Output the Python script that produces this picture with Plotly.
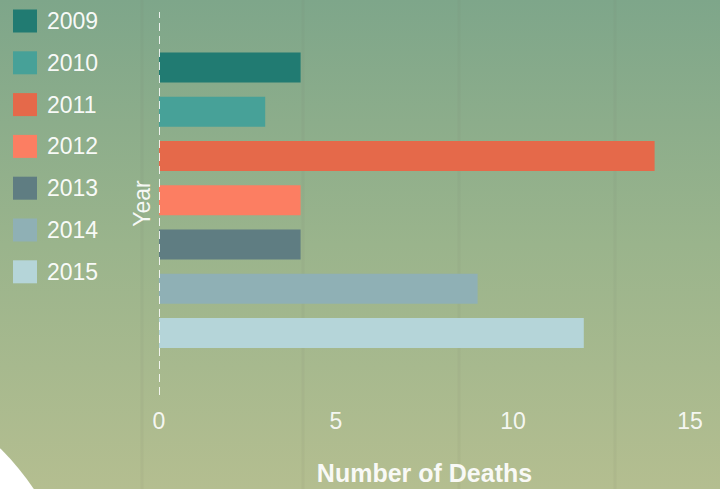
import base64
import plotly.graph_objects as go

# ---- data ----
years = ["2009", "2010", "2011", "2012", "2013", "2014", "2015"]
deaths = [4, 3, 14, 4, 4, 9, 12]
colors = ["#217b72", "#47a198", "#e5694a", "#fc7e62", "#5f7d82", "#8fb0b5", "#b5d5d9"]
x_ticks = [0, 5, 10, 15]

W, H = 720, 489
ML, MR, MT, MB = 159, 30, 12, 94
PW, PH = W - ML - MR, H - MT - MB

def px_x(p):
    return (p - ML) / PW

def px_y(p):
    return (H - MB - p) / PH

# background: vertical gradient, faint stripes, white circle bottom-left
svg = f'''<svg xmlns="http://www.w3.org/2000/svg" width="{W}" height="{H}" viewBox="0 0 {W} {H}">
<defs><linearGradient id="g" x1="0" y1="0" x2="0" y2="1">
<stop offset="0" stop-color="#7ea68a"/>
<stop offset="0.5" stop-color="#9ab48c"/>
<stop offset="1" stop-color="#b4be90"/>
</linearGradient></defs>
<rect x="0" y="0" width="{W}" height="{H}" fill="url(#g)"/>
<g stroke="rgba(110,120,100,0.07)" stroke-width="3">
<line x1="142" y1="0" x2="142" y2="{H}"/>
<line x1="303" y1="0" x2="303" y2="{H}"/>
<line x1="459" y1="0" x2="459" y2="{H}"/>
<line x1="615" y1="0" x2="615" y2="{H}"/>
</g>
<circle cx="-190" cy="640" r="270" fill="#ffffff"/>
</svg>'''
src = "data:image/svg+xml;base64," + base64.b64encode(svg.encode()).decode()

fig = go.Figure()
fig.add_trace(go.Bar(
    y=years, x=deaths, orientation="h",
    marker=dict(color=colors, line=dict(width=0)),
    showlegend=False,
    hovertemplate="%{y}: %{x}<extra></extra>",
))

shapes = [dict(type="line", xref="x", yref="paper", x0=0, x1=0, y0=0, y1=1,
               line=dict(color="rgba(255,255,255,0.85)", width=2, dash="8px,5px"))]
annotations = []
# manual legend (large swatches)
for i, (yr, c) in enumerate(zip(years, colors)):
    cy = 21 + i * 41.8
    shapes.append(dict(type="rect", xref="paper", yref="paper",
                       x0=px_x(13), x1=px_x(37), y0=px_y(cy + 11.5), y1=px_y(cy - 11.5),
                       fillcolor=c, line=dict(width=0), layer="above"))
    annotations.append(dict(xref="paper", yref="paper", x=px_x(45), y=px_y(cy),
                            text=yr, showarrow=False, xanchor="left", yanchor="middle",
                            font=dict(family="Liberation Sans, Arial, sans-serif", size=23,
                                      color="rgba(255,255,255,0.95)")))

fig.update_layout(
    width=W, height=H,
    margin=dict(l=ML, r=MR, t=MT, b=MB, autoexpand=False),
    paper_bgcolor="#9ab48c",
    plot_bgcolor="rgba(0,0,0,0)",
    bargap=0.32,
    font=dict(family="Liberation Sans, Arial, sans-serif", size=23, color="rgba(255,255,255,0.92)"),
    images=[dict(source=src, xref="paper", yref="paper", x=px_x(0), y=px_y(0),
                 sizex=W / PW, sizey=H / PH, xanchor="left", yanchor="top",
                 sizing="stretch", layer="below")],
    shapes=shapes,
    annotations=annotations,
    xaxis=dict(range=[0, 15], tickvals=x_ticks, showgrid=False, zeroline=False,
               showline=False, ticks="", ticklabelstandoff=10,
               tickfont=dict(size=23, color="rgba(255,255,255,0.9)"),
               title=dict(text="<b>Number of Deaths</b>", standoff=31,
                          font=dict(size=25, color="rgba(255,255,255,0.92)"))),
    yaxis=dict(type="category", categoryorder="array", categoryarray=years,
               range=[7.40, -1.256], showticklabels=False, showgrid=False,
               zeroline=False, showline=False, ticks="",
               title=dict(text="Year", standoff=0,
                          font=dict(size=23, color="rgba(255,255,255,0.92)"))),
)

fig.write_html("out.html", config={"displayModeBar": False},
               post_script="document.body.style.margin='0';document.body.style.overflow='hidden';")
